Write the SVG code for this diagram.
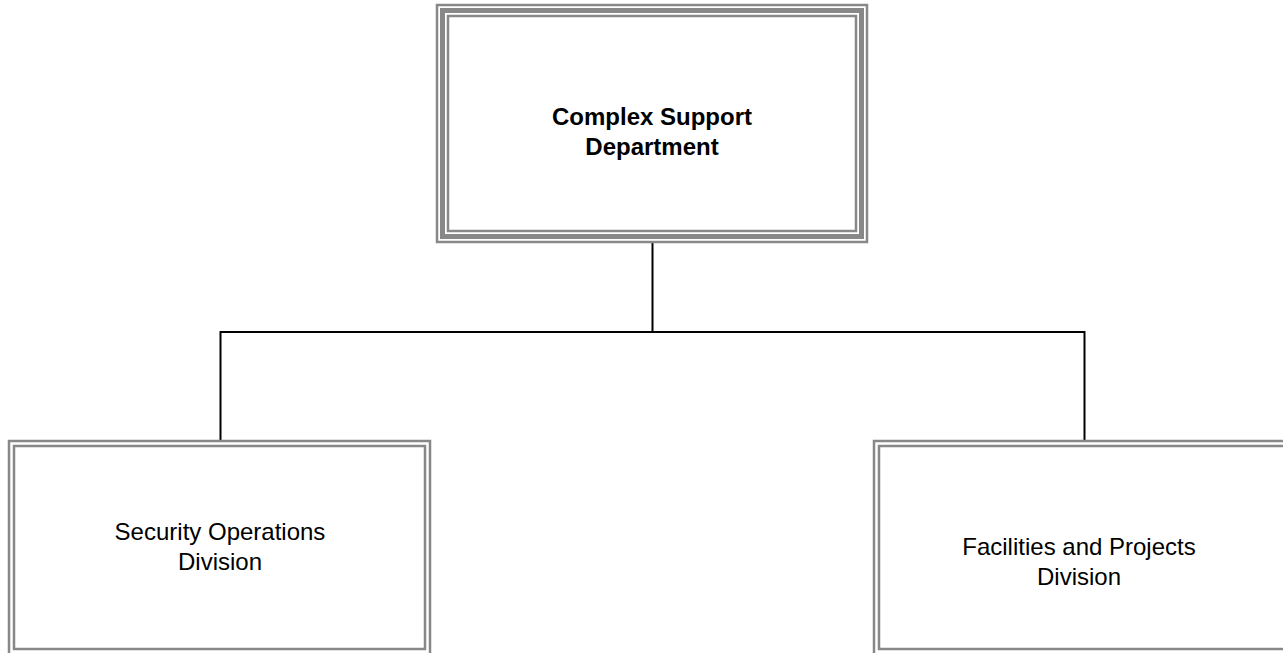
<svg xmlns="http://www.w3.org/2000/svg" width="1283" height="653" viewBox="0 0 1283 653">
<style>
.b{fill:none;stroke:#888888;stroke-width:2.5}
.bt{fill:none;stroke:#888888;stroke-width:5}
.c{fill:none;stroke:#000000;stroke-width:2}
.t{font-family:"Liberation Sans",Arial,sans-serif;font-size:24px;fill:#000000;text-anchor:middle}
.tb{font-weight:bold}
</style>
<rect width="1283" height="653" fill="#ffffff"/>
<g id="connectors">
<path class="c" d="M652.5 243 V332"/>
<path class="c" d="M220.5 332 H1084.5"/>
<path class="c" d="M220.5 331 V441"/>
<path class="c" d="M1084.5 331 V441"/>
</g>
<g id="node-top">
<rect class="b" x="437" y="5" width="430" height="237"/>
<rect class="bt" x="442.5" y="10.5" width="419" height="226"/>
<rect class="b" x="448" y="16" width="408" height="215"/>
<text class="t tb" x="652" y="125">Complex Support</text>
<text class="t tb" x="652" y="155">Department</text>
</g>
<g id="node-left">
<rect class="b" x="9" y="441" width="421" height="220"/>
<rect class="b" x="14" y="446" width="411" height="203"/>
<text class="t" x="220" y="540">Security Operations</text>
<text class="t" x="220" y="570">Division</text>
</g>
<g id="node-right">
<rect class="b" x="874" y="441" width="420" height="220"/>
<rect class="b" x="879" y="446" width="420" height="203"/>
<text class="t" x="1079" y="555">Facilities and Projects</text>
<text class="t" x="1079" y="585">Division</text>
</g>
</svg>
